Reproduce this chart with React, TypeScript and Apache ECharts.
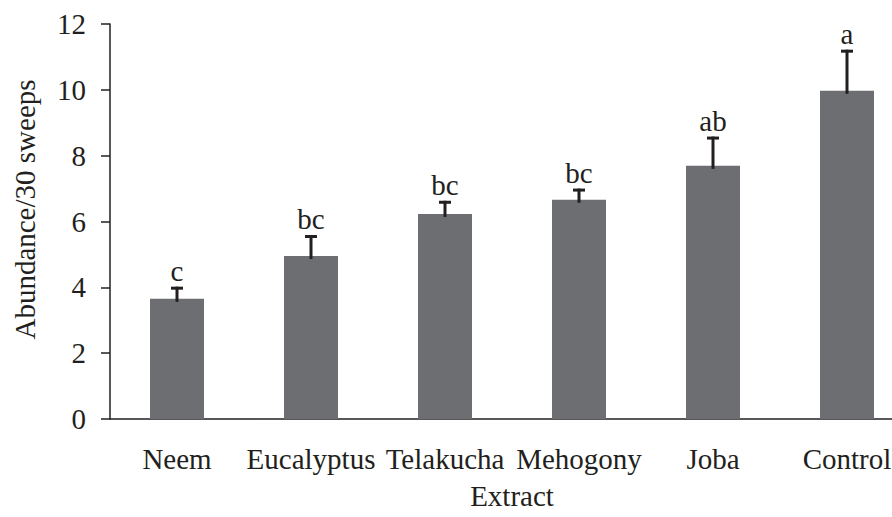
import React, { useEffect, useRef } from "react";
import * as echarts from "echarts";

const categories = ["Neem", "Eucalyptus", "Telakucha", "Mehogony", "Joba", "Control"];
const means = [3.65, 4.95, 6.23, 6.66, 7.69, 9.97];
const errors = [0.37, 0.64, 0.4, 0.34, 0.89, 1.25];
const letters = ["c", "bc", "bc", "bc", "ab", "a"];
const yTicks = [0, 2, 4, 6, 8, 10, 12];

const FONT = '"Liberation Serif", "DejaVu Serif", serif';
const INK = "#231f20";
const FS = 29;

export default function App() {
  const ref = useRef<HTMLDivElement>(null);
  useEffect(() => {
    if (!ref.current) return;
    const chart = echarts.init(ref.current, undefined, { renderer: "svg" });
    chart.setOption({
      animation: false,
      textStyle: { fontFamily: FONT },
      grid: { left: 110, top: 24, width: 804, height: 395, containLabel: false, outerBoundsMode: "none" },
      xAxis: {
        type: "category",
        data: categories,
        name: "Extract",
        nameLocation: "middle",
        nameGap: 62,
        nameTextStyle: { fontFamily: FONT, fontSize: FS, color: INK },
        axisLine: { lineStyle: { color: INK, width: 1.5 } },
        axisTick: { show: false },
        axisLabel: { interval: 0, margin: 25, fontFamily: FONT, fontSize: FS, color: INK },
      },
      yAxis: {
        type: "value",
        min: yTicks[0],
        max: yTicks[yTicks.length - 1],
        interval: 2,
        name: "Abundance/30 sweeps",
        nameLocation: "middle",
        nameGap: 71,
        nameTextStyle: { fontFamily: FONT, fontSize: FS, color: INK, padding: [0, 0, 0, 24] },
        splitLine: { show: false },
        axisLine: { show: true, lineStyle: { color: INK, width: 1.5 } },
        axisTick: { show: true, length: 9, lineStyle: { color: INK, width: 1.5 } },
        axisLabel: { margin: 24, fontFamily: FONT, fontSize: FS, color: INK },
      },
      series: [
        {
          type: "bar",
          data: means,
          barWidth: 54,
          itemStyle: { color: "#6d6e71" },
        },
        {
          type: "custom",
          data: means.map((m, i) => [i, m, m + errors[i]]),
          renderItem: (params: any, api: any) => {
            const x = api.value(0);
            const base = api.coord([x, api.value(1)]);
            const top = api.coord([x, api.value(2)]);
            const i = params.dataIndex;
            return {
              type: "group",
              children: [
                {
                  type: "line",
                  shape: { x1: base[0], y1: base[1] + 3, x2: base[0], y2: top[1] },
                  style: { stroke: INK, lineWidth: 3 },
                },
                {
                  type: "line",
                  shape: { x1: base[0] - 6, y1: top[1] + 1.5, x2: base[0] + 6, y2: top[1] + 1.5 },
                  style: { stroke: INK, lineWidth: 3 },
                },
                {
                  type: "text",
                  style: {
                    text: letters[i],
                    x: base[0],
                    y: top[1] - 1,
                    align: "center",
                    verticalAlign: "bottom",
                    fontFamily: FONT,
                    fontSize: FS,
                    fill: INK,
                  },
                },
              ],
            };
          },
          z: 5,
        },
      ],
    });
    return () => chart.dispose();
  }, []);
  return <div ref={ref} style={{ width: 892, height: 517, position: "absolute", left: 0, top: 0 }} />;
}
